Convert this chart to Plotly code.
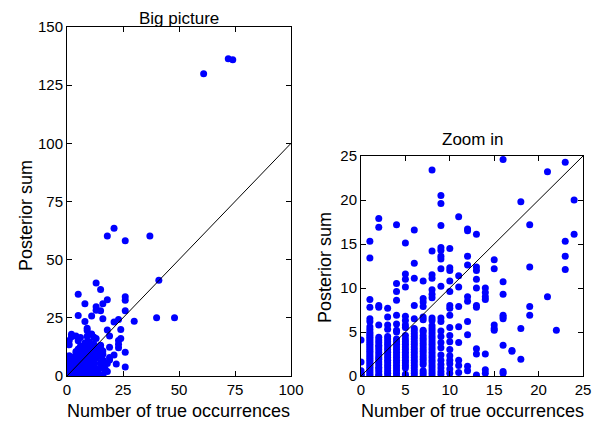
import plotly.graph_objects as go

# Posterior sums grouped by the number of true occurrences
true_counts = [0, 1, 2, 3, 4, 5, 6, 7, 8, 9, 10, 11, 12, 13, 14, 15, 16, 17, 18, 19,
               21, 22, 23, 24, 26, 30, 37, 40, 41, 48, 61, 72, 74]

post_0 = [0.0, 0.1, 0.2, 0.35, 0.6, 1.6, 4.1]
post_1 = [0.0, 0.2, 0.4, 0.6, 0.8, 1.0, 1.2, 1.4, 1.6, 1.8, 2.0, 2.2, 2.4, 2.6, 2.8, 3.0,
          3.2, 3.4, 3.6, 3.8, 4.0, 4.2, 4.4, 4.6, 4.8, 5.0, 5.3, 5.6, 6.2, 6.5, 7.8, 8.7,
          13.4, 15.3]
post_2 = [0.0, 0.2, 0.5, 0.8, 1.0, 1.3, 1.6, 1.9, 2.1, 2.4, 2.7, 3.0, 3.3, 3.5, 3.8, 4.1,
          4.4, 5.8, 7.8, 8.0, 16.9, 17.9]
post_3 = [0.0, 0.3, 0.6, 0.9, 1.2, 1.5, 1.8, 2.1, 2.4, 2.7, 3.0, 3.3, 3.6, 3.9, 4.2, 4.5,
          5.3, 5.8, 6.7, 7.7]
post_4 = [0.0, 0.3, 0.6, 0.9, 1.2, 1.5, 1.8, 2.1, 2.4, 2.7, 3.0, 3.3, 3.6, 3.9, 4.2, 5.0,
          5.2, 5.9, 6.9, 8.6, 9.6, 10.5, 17.2]
post_5 = [0.0, 0.2, 0.9, 1.2, 1.5, 1.8, 2.1, 2.4, 2.7, 3.0, 3.3, 3.6, 3.9, 4.2, 4.6, 5.5,
          5.8, 6.3, 6.8, 10.1, 11.0, 11.6, 15.1, 26.0, 35.1]
post_6 = [0.0, 0.3, 0.6, 0.9, 1.2, 1.5, 1.8, 2.1, 2.4, 2.7, 3.0, 3.3, 3.6, 3.9, 4.2, 4.5,
          4.8, 5.1, 5.4, 6.5, 8.0, 11.1, 12.8, 16.6]
post_7 = [0.0, 0.3, 0.6, 1.3, 1.6, 1.9, 2.2, 2.5, 2.8, 3.1, 3.4, 3.7, 4.0, 4.3, 4.6, 5.0,
          5.2, 6.4, 6.7, 7.9, 8.4, 8.8, 10.8]
post_8 = [0.0, 0.3, 0.6, 0.9, 1.2, 1.5, 1.8, 2.1, 2.4, 2.7, 3.0, 3.3, 3.6, 3.9, 4.2, 4.5,
          4.8, 5.1, 5.4, 5.7, 6.3, 6.6, 8.9, 9.3, 9.8, 11.1, 11.5, 14.2, 23.4, 31.0]
post_9 = [0.2, 0.5, 0.9, 1.3, 1.8, 2.4, 3.2, 3.8, 4.5, 5.1, 6.2, 6.6, 10.2, 12.2, 13.3,
          13.6, 14.3, 14.6, 17.1, 19.6, 20.5]
post_10 = [0.3, 0.8, 1.4, 1.8, 2.3, 3.0, 3.9, 4.6, 5.5, 6.9, 7.7, 8.0, 9.6, 10.8, 12.0,
           12.3, 14.5]
post_11 = [0.4, 1.2, 1.8, 3.8, 5.6, 7.9, 10.1, 11.4, 18.1, 25.8]
post_12 = [0.6, 1.1, 4.7, 6.2, 8.5, 9.0, 12.6, 13.6, 16.5, 16.7]
post_13 = [0.1, 2.5, 3.1, 7.8, 8.0, 10.0, 11.0, 12.0, 12.4, 16.1, 28.3, 29.8, 40.0]
post_14 = [0.3, 0.7, 2.5, 8.7, 9.0, 9.5, 10.0]
post_15 = [5.2, 5.4, 5.8, 12.2, 13.2, 28.0, 37.2]
post_16 = [0.3, 0.5, 3.5, 6.5, 6.7, 6.9, 9.3, 10.7, 24.6, 31.0]
post_17 = [2.8, 2.9]
post_18 = [1.9, 5.4, 19.8, 32.8, 60.2]
post_19 = [6.9, 7.9, 12.4, 17.2]
post_21 = [9.0, 23.2, 63.5]
post_22 = [5.2]
post_23 = [12.1, 13.6, 15.3, 24.3]
post_24 = [16.1, 20.0]
post_26 = [3.9, 10.2, 28.0, 32.6, 34.1, 58.1]
post_30 = [23.5]
post_37 = [60.2]
post_40 = [25.0]
post_41 = [41.1]
post_48 = [25.0]
post_61 = [129.9]
post_72 = [136.4]
post_74 = [135.9]

post_columns = [post_0, post_1, post_2, post_3, post_4, post_5, post_6, post_7, post_8,
                post_9, post_10, post_11, post_12, post_13, post_14, post_15, post_16,
                post_17, post_18, post_19, post_21, post_22, post_23, post_24, post_26,
                post_30, post_37, post_40, post_41, post_48, post_61, post_72, post_74]

xs, ys = [], []
for n, col in zip(true_counts, post_columns):
    for v in col:
        xs.append(n)
        ys.append(v)

big_x_ticks = [0, 25, 50, 75, 100]
big_y_ticks = [0, 25, 50, 75, 100, 125, 150]
zoom_ticks = [0, 5, 10, 15, 20, 25]
big_range = [0, 100]
zoom_range = [0, 25]

W, H = 606, 427
OFF = 8  # page body margin offsets the figure
FONT = "Liberation Sans, Arial, Helvetica, sans-serif"
BLUE = "#0000ff"

fig = go.Figure()
# left panel
fig.add_trace(go.Scatter(x=xs, y=ys, mode="markers", xaxis="x", yaxis="y",
                         marker=dict(color=BLUE, size=7, line=dict(width=0)),
                         showlegend=False, hoverinfo="skip"))
fig.add_trace(go.Scatter(x=big_range, y=big_range, mode="lines", xaxis="x", yaxis="y",
                         line=dict(color="black", width=1), showlegend=False))
# right panel
fig.add_trace(go.Scatter(x=xs, y=ys, mode="markers", xaxis="x2", yaxis="y2",
                         marker=dict(color=BLUE, size=7, line=dict(width=0)),
                         showlegend=False, hoverinfo="skip"))
fig.add_trace(go.Scatter(x=zoom_range, y=zoom_range, mode="lines", xaxis="x2", yaxis="y2",
                         line=dict(color="black", width=1), showlegend=False))

def px_x(p):
    return (p - OFF) / W

def px_y(p):
    return 1 - (p - OFF) / H

axis_common = dict(showline=True, linecolor="black", linewidth=1, mirror="ticks",
                   ticks="inside", ticklen=5, tickcolor="black", tickwidth=1,
                   showgrid=False, zeroline=False, automargin=False,
                   tickfont=dict(family=FONT, size=15, color="black"))

def label(text, x, y, size, angle=0):
    return dict(text=text, x=px_x(x), y=px_y(y), xref="paper", yref="paper",
                xanchor="center", yanchor="middle", textangle=angle,
                showarrow=False, font=dict(family=FONT, size=size, color="black"))

fig.update_layout(
    width=W, height=H, autosize=False,
    margin=dict(l=0, r=0, t=0, b=0, pad=0, autoexpand=False),
    paper_bgcolor="white", plot_bgcolor="white",
    xaxis=dict(domain=[px_x(67), px_x(291)], range=big_range, tickvals=big_x_ticks,
               anchor="y", **axis_common),
    yaxis=dict(domain=[px_y(376), px_y(27)], range=[0, 150], tickvals=big_y_ticks,
               anchor="x", **axis_common),
    xaxis2=dict(domain=[px_x(361), px_x(583)], range=zoom_range, tickvals=zoom_ticks,
                anchor="y2", **axis_common),
    yaxis2=dict(domain=[px_y(376), px_y(156)], range=zoom_range, tickvals=zoom_ticks,
                anchor="x2", **axis_common),
    annotations=[
        label("Big picture", 179, 18, 17),
        label("Zoom in", 472, 139, 17),
        label("Number of true occurrences", 179, 411, 18),
        label("Number of true occurrences", 472, 411, 18),
        label("Posterior sum", 26, 216, 18, -90),
        label("Posterior sum", 325, 267, 18, -90),
    ],
)

fig.write_html("out.html")
